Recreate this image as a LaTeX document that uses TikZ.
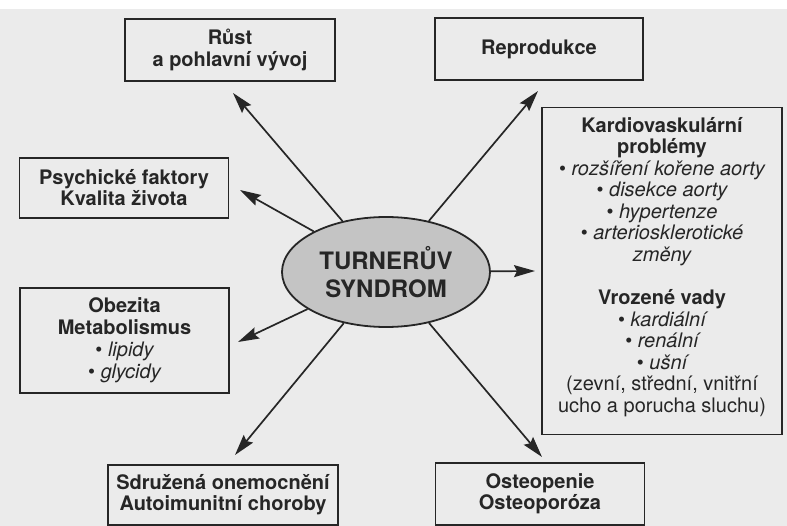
\documentclass[tikz,border=0pt]{standalone}
\usepackage{fontspec}
\setmainfont{TeX Gyre Heros}
\usetikzlibrary{arrows.meta,shapes.geometric}
\definecolor{paper}{HTML}{EBEBEB}
\definecolor{ink}{HTML}{262626}
\definecolor{ellfill}{HTML}{C4C4C4}
\begin{document}
\begin{tikzpicture}[x=1pt,y=-1pt,
  box/.style={draw=ink, line width=1.8pt, fill=paper, inner sep=0pt, align=center,
    text=ink, font=\fontsize{20}{21}\selectfont},
  arr/.style={draw=ink, line width=1.7pt, -{Stealth[length=21pt,width=12pt,inset=3pt]}}]
\fill[white] (0,0) rectangle (787,526);
\fill[paper] (0,9) rectangle (787,526);
\useasboundingbox (0,0) rectangle (787,526);

\node[box, minimum width=210pt, minimum height=62pt, font=\fontsize{20}{22}\selectfont] (rust) at (230,50)
  {\bfseries Růst\\\bfseries a pohlavní vývoj};
\node[box, minimum width=209pt, minimum height=60pt] (psych) at (124,188)
  {\bfseries Psychické faktory\\\bfseries Kvalita života};
\node[box, minimum width=208pt, minimum height=62pt] (repro) at (539,49)
  {\bfseries Reprodukce};
\node[box, minimum width=240pt, minimum height=327pt, font=\fontsize{20}{21.5}\selectfont] (kard) at (662,271)
  {\bfseries Kardiovaskulární\\
   \bfseries problémy\\
   • \itshape rozšíření kořene aorty\\
   • \itshape disekce aorty\\
   • \itshape hypertenze\\
   • \itshape arteriosklerotické\\
   \itshape změny\\[22pt]
   \bfseries Vrozené vady\\
   • \itshape kardiální\\
   • \itshape renální\\
   • \itshape ušní\\
   (zevní, střední, vnitřní\\
   ucho a porucha sluchu)\\[-9pt]\mbox{}};
\node[box, minimum width=209pt, minimum height=105pt, font=\fontsize{20}{22}\selectfont] (obez) at (124.5,340.5)
  {\bfseries Obezita\\
   \bfseries Metabolismus\\
   • \itshape lipidy\\
   • \itshape glycidy};
\node[box, minimum width=230pt, minimum height=60pt] (sdruz) at (223,495)
  {\bfseries Sdružená onemocnění\\\bfseries Autoimunitní choroby};
\node[box, minimum width=209pt, minimum height=62pt] (osteo) at (540,494)
  {\bfseries Osteopenie\\\bfseries Osteoporóza};

\node[ellipse, draw=ink, line width=1.8pt, fill=ellfill, minimum width=208pt,
  minimum height=110pt, inner sep=0pt, align=center, text=ink,
  font=\fontsize{24}{28}\selectfont\bfseries] (tur) at (386,272)
  {TURNERŮV\\SYNDROM};

\coordinate (tRust) at (233,93);
\coordinate (tPsych) at (240,190);
\coordinate (tRepro) at (538,91);
\coordinate (tKard) at (535,271);
\coordinate (tObez) at (238,342);
\coordinate (tSdruz) at (235,455);
\coordinate (tOsteo) at (542,457);

\draw[arr] (tur) -- (tRust);
\draw[arr] (tur) -- (tPsych);
\draw[arr] (tur) -- (tRepro);
\draw[arr] (tur) -- (tKard);
\draw[arr] (tur) -- (tObez);
\draw[arr] (tur) -- (tSdruz);
\draw[arr] (tur) -- (tOsteo);
\end{tikzpicture}
\end{document}
